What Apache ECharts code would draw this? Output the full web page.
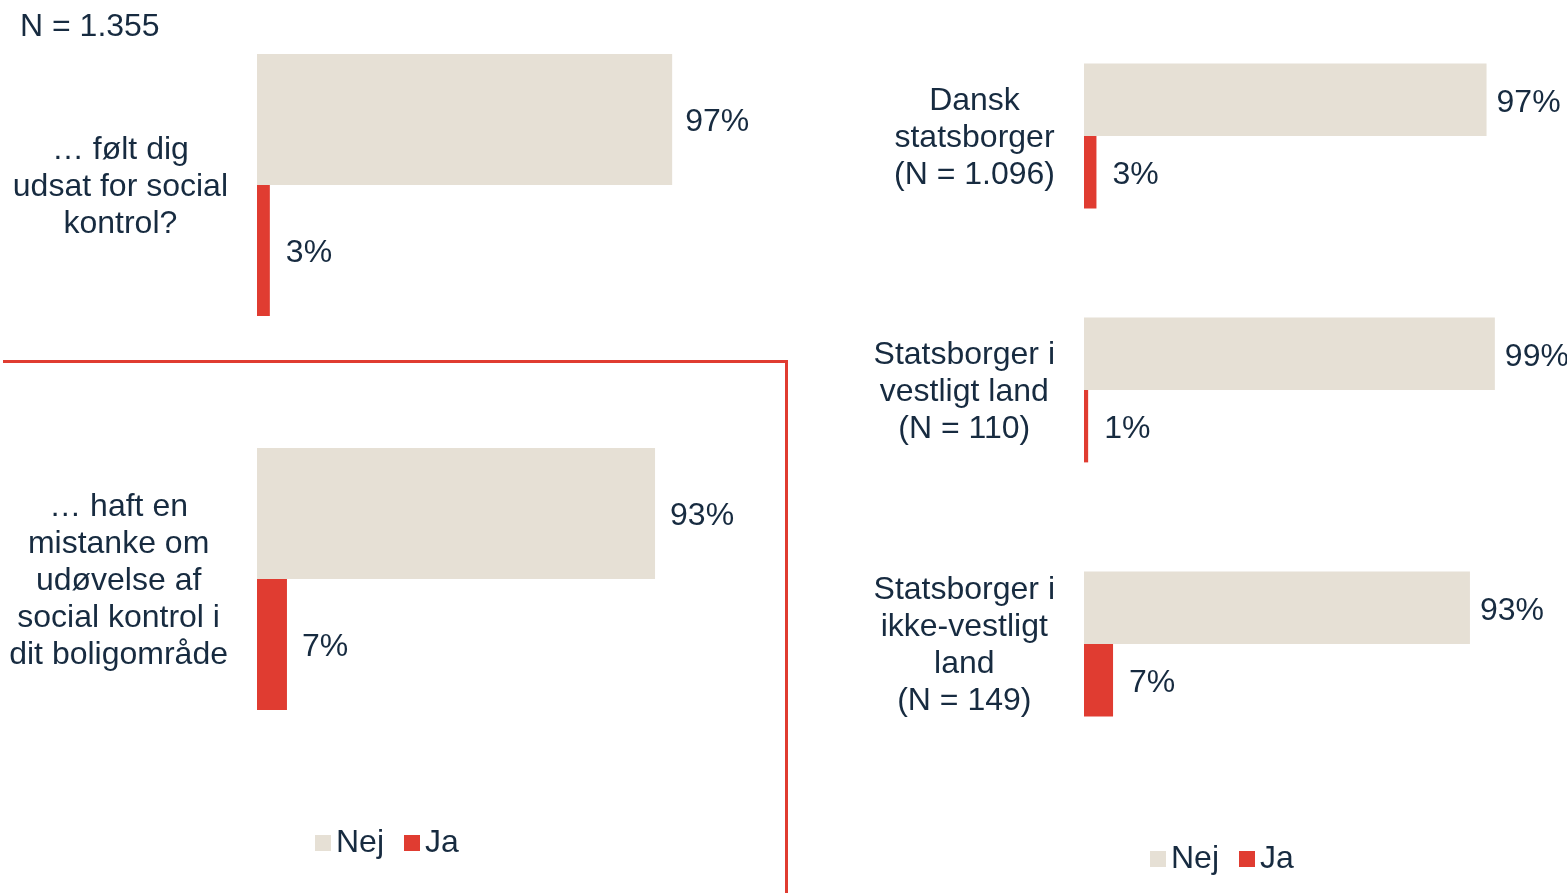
<!DOCTYPE html>
<html>
<head>
<meta charset="utf-8">
<script src="https://cdn.jsdelivr.net/npm/echarts@6/dist/echarts.min.js"></script>
<style>
  html, body { margin: 0; padding: 0; background: #fff; }
  #chart { width: 1567px; height: 893px; }
</style>
</head>
<body>
<div id="chart"></div>
<script>
// data
const seriesNames = ['Nej', 'Ja']
const topCats = ['… følt dig\nudsat for social\nkontrol?']
const topNej = [97]
const topJa = [3]
const bottomCats = ['… haft en\nmistanke om\nudøvelse af\nsocial kontrol i\ndit boligområde']
const bottomNej = [93]
const bottomJa = [7]
const rightCats = ['Dansk\nstatsborger\n(N = 1.096)', 'Statsborger i\nvestligt land\n(N = 110)', 'Statsborger i\nikke-vestligt\nland\n(N = 149)']
const rightNej = [97, 99, 93]
const rightJa = [3, 1, 7]
const sampleText = 'N = 1.355'

const BEIGE = '#E6E0D5'
const RED = '#E03C31'
const TEXT = '#172B40'
const FONT = '"Liberation Sans", Arial, sans-serif'
const FS = 32

const chart = echarts.init(document.getElementById('chart'))

// centre every line inside a right-aligned block
function wrapLines(v) {
    return v.split('\n').map(s => '{c|' + s + '}').join('\n')
}

function catAxis(idx, cats) {
    return {
        type: 'category',
        gridIndex: idx,
        data: cats,
        inverse: true,
        axisLine: {show: false},
        axisTick: {show: false},
        axisLabel: {
            align: 'right',
            margin: 29,
            padding: [4, 0, 0, 0],
            formatter: wrapLines,
            rich: {
                c: {align: 'center', fontSize: FS, lineHeight: 37, color: TEXT, fontFamily: FONT}
            }
        }
    }
}

function valAxis(idx) {
    return {
        type: 'value', gridIndex: idx, min: 0, max: 100, show: false
    }
}

function barSeries(name, idx, data, color, gap, dist) {
    return {
        name: name,
        type: 'bar',
        xAxisIndex: idx,
        yAxisIndex: idx,
        data: data,
        barGap: '0%',
        barCategoryGap: gap,
        itemStyle: {color: color},
        label: {
            show: true,
            position: 'right',
            distance: dist,
            offset: [0, 3],
            formatter: '{c}%',
            fontSize: FS,
            color: TEXT,
            fontFamily: FONT
        }
    }
}

const legendBase = {
    data: seriesNames,
    orient: 'horizontal',
    itemWidth: 16,
    itemHeight: 16,
    itemGap: 20,
    icon: 'rect',
    textStyle: {fontSize: FS, color: TEXT, fontFamily: FONT, lineHeight: 36}
}

const option = {
    animation: false,
    grid: [
        {left: 257, top: 54, width: 428, height: 262},
        {left: 257, top: 448, width: 428, height: 262},
        {left: 1084, top: 9, width: 415, height: 762}
    ],
    xAxis: [valAxis(0), valAxis(1), valAxis(2)],
    yAxis: [catAxis(0, topCats), catAxis(1, bottomCats), catAxis(2, rightCats)],
    legend: [
        Object.assign({left: 310, top: 820}, legendBase),
        Object.assign({left: 1145, top: 836}, legendBase)
    ],
    series: [
        barSeries('Nej', 0, topNej, BEIGE, '0%', 13),
        barSeries('Ja', 0, topJa, RED, '0%', 16),
        barSeries('Nej', 1, bottomNej, BEIGE, '0%', 15),
        barSeries('Ja', 1, bottomJa, RED, '0%', 15),
        barSeries('Nej', 2, rightNej, BEIGE, '43%', 10),
        barSeries('Ja', 2, rightJa, RED, '43%', 16)
    ],
    graphic: [
        {
            type: 'text',
            left: 20,
            top: 11,
            style: {text: sampleText, fontSize: FS, fill: TEXT, fontFamily: FONT}
        },
        {
            type: 'polyline',
            shape: {points: [[3, 361.5], [786.5, 361.5], [786.5, 893]]},
            style: {stroke: RED, lineWidth: 3, fill: null}
        }
    ]
}

chart.setOption(option)
</script>
</body>
</html>
